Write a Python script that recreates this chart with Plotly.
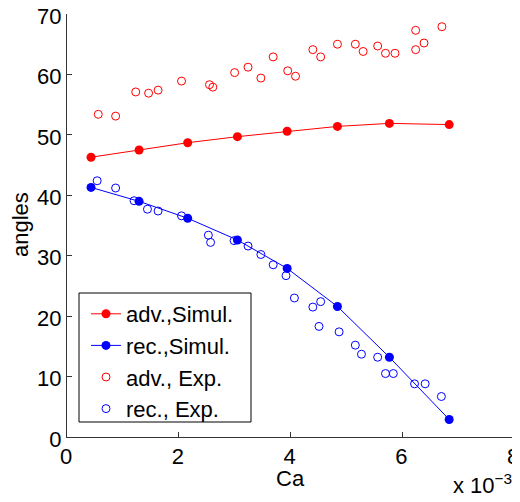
import plotly.graph_objects as go

# Simulated advancing angles
adv_sim_x = [0.43, 1.29, 2.16, 3.05, 3.94, 4.84, 5.77, 6.84]
adv_sim_y = [46.3, 47.5, 48.7, 49.7, 50.6, 51.4, 51.9, 51.7]

# Simulated receding angles
rec_sim_x = [0.43, 1.29, 2.16, 3.05, 3.94, 4.84, 5.77, 6.84]
rec_sim_y = [41.3, 39.0, 36.2, 32.6, 27.9, 21.6, 13.2, 2.9]

# Experimental advancing angles
adv_exp_x = [0.56, 0.87, 1.23, 1.46, 1.63, 2.05, 2.55, 2.61, 3.00, 3.24, 3.47, 3.69,
             3.95, 4.09, 4.40, 4.54, 4.84, 5.16, 5.30, 5.56, 5.70, 5.87, 6.24, 6.24,
             6.39, 6.71]
adv_exp_y = [53.4, 53.1, 57.1, 56.9, 57.4, 58.9, 58.3, 57.9, 60.3, 61.2, 59.4, 62.9,
             60.6, 59.7, 64.1, 62.9, 65.0, 65.0, 63.8, 64.7, 63.5, 63.5, 67.3, 64.1,
             65.2, 67.9]

# Experimental receding angles
rec_exp_x = [0.54, 0.87, 1.20, 1.44, 1.63, 2.05, 2.53, 2.57, 2.99, 3.24, 3.47, 3.69,
             3.92, 4.07, 4.40, 4.54, 4.51, 4.87, 5.16, 5.27, 5.56, 5.70, 5.84, 6.22,
             6.41, 6.70]
rec_exp_y = [42.4, 41.2, 39.1, 37.7, 37.4, 36.6, 33.4, 32.2, 32.5, 31.6, 30.2, 28.5,
             26.7, 23.0, 21.5, 22.4, 18.3, 17.4, 15.2, 13.7, 13.2, 10.5, 10.5, 8.8,
             8.8, 6.7]

x_ticks = [0, 2, 4, 6, 8]
y_ticks = [0, 10, 20, 30, 40, 50, 60, 70]

FONT = "Liberation Sans, Arial, Helvetica, sans-serif"
FS = 22
LFS = 22
RED = "#ff0000"
BLUE = "#0000ff"

fig = go.Figure()
fig.add_trace(go.Scatter(x=adv_sim_x, y=adv_sim_y, mode="lines+markers", name="adv.,Simul.",
                         line=dict(color=RED, width=1),
                         marker=dict(color=RED, size=9, symbol="circle")))
fig.add_trace(go.Scatter(x=rec_sim_x, y=rec_sim_y, mode="lines+markers", name="rec.,Simul.",
                         line=dict(color=BLUE, width=1),
                         marker=dict(color=BLUE, size=9, symbol="circle")))
fig.add_trace(go.Scatter(x=adv_exp_x, y=adv_exp_y, mode="markers", name="adv., Exp.",
                         marker=dict(color=RED, size=8, symbol="circle-open", line=dict(width=1))))
fig.add_trace(go.Scatter(x=rec_exp_x, y=rec_exp_y, mode="markers", name="rec., Exp.",
                         marker=dict(color=BLUE, size=8, symbol="circle-open", line=dict(width=1))))

# The page body adds an 8px offset; the figure is sized so the visible area is 520x502.
OFF = 8
W, H = 520 - OFF, 502 - OFF
# Target page-pixel plot box: left 67, right 514, top 14, bottom 437
L = 67 - OFF
T = 14 - OFF
R = W - (514 - OFF)
B = H - (437 - OFF)
pw, ph = W - L - R, H - T - B

def px(x):
    return (x - OFF - L) / pw

def py(y):
    return (H - B - (y - OFF)) / ph

axis_common = dict(ticks="inside", ticklen=5, tickcolor="#333", showline=True,
                   linecolor="#333", linewidth=1, showgrid=False, zeroline=False,
                   mirror=False, automargin=False, tickfont=dict(size=FS),
                   ticklabeloverflow="allow")

fig.update_layout(
    width=W, height=H,
    margin=dict(l=L, r=R, t=T, b=B, pad=0),
    paper_bgcolor="white", plot_bgcolor="white",
    font=dict(family=FONT, size=FS, color="black"),
    showlegend=True,
    legend=dict(x=px(86), y=py(293), xanchor="left", yanchor="top",
                borderwidth=0, bgcolor="rgba(0,0,0,0)",
                font=dict(family=FONT, size=LFS, color="black"),
                tracegroupgap=0),
    xaxis=dict(range=[0, 8], tickvals=x_ticks, ticktext=[str(v) for v in x_ticks],
               ticklabelshift=-1, **axis_common),
    yaxis=dict(range=[0, 70], tickvals=y_ticks, ticktext=[str(v) for v in y_ticks],
               ticklabelshift=2, **axis_common),
    shapes=[
        dict(type="rect", xref="paper", yref="paper",
             x0=px(79), x1=px(251), y0=py(422), y1=py(293),
             line=dict(color="black", width=1), fillcolor="white", layer="above"),
    ],
    annotations=[
        dict(text="Ca", x=px(290), y=py(478), xref="paper", yref="paper",
             xanchor="center", yanchor="middle", showarrow=False,
             font=dict(family=FONT, size=FS, color="black")),
        dict(text="angles", x=px(20), y=py(225), xref="paper", yref="paper",
             xanchor="center", yanchor="middle", showarrow=False, textangle=-90,
             font=dict(family=FONT, size=FS, color="black")),
        dict(text="x 10<sup>\u22123</sup>", x=px(514), y=py(500), xref="paper", yref="paper",
             xanchor="right", yanchor="bottom", showarrow=False,
             font=dict(family=FONT, size=FS, color="black")),
    ],
)

fig.write_html("out.html")
